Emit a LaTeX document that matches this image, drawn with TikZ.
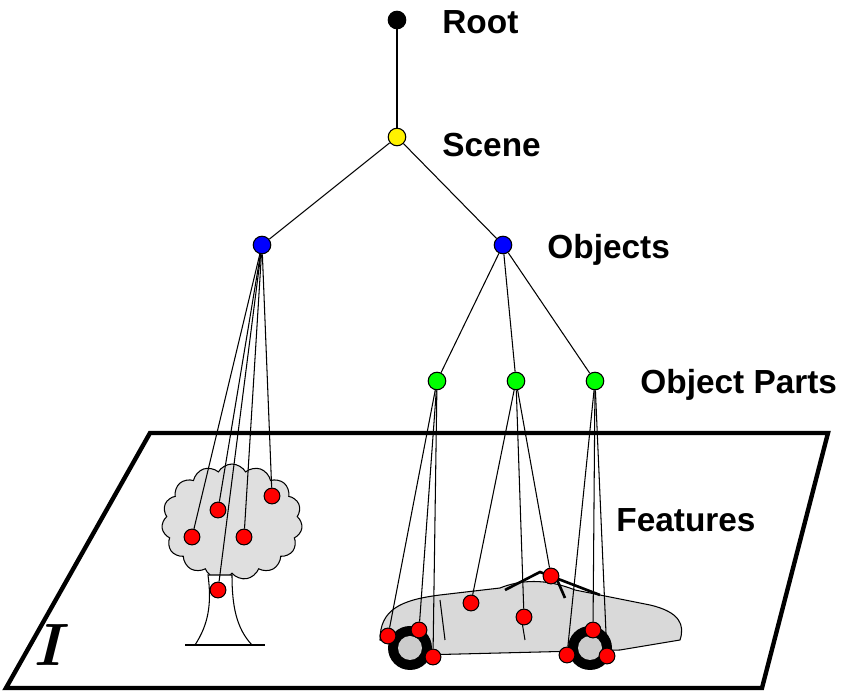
\documentclass[tikz,border=0pt]{standalone}
\usepackage{fontspec}
\setsansfont{Liberation Sans}
\usetikzlibrary{shapes.symbols}
\tikzset{
  dot/.style={circle,draw=black,inner sep=0pt,minimum size=10pt},
  feat/.style={dot,fill=red,minimum size=9pt},
  lbl/.style={font=\sffamily\bfseries\fontsize{19}{19}\selectfont,anchor=west},
}
\begin{document}
\begin{tikzpicture}[x=0.02cm,y=-0.02cm,line width=0.6pt]
  \useasboundingbox (0,0) rectangle (850,692);
  % image plane
  \draw[line width=2.5pt] (150,433) -- (828,433) -- (762,688) -- (6,688) -- cycle;
  \node[font=\fontsize{34}{34}\selectfont\bfseries\itshape] at (48,645) {I};
  \node[lbl] at (610,520) {Features};

  % tree
  \node[cloud,cloud puffs=15,cloud puff arc=120,aspect=1.2,draw,fill=gray!25,
        minimum width=80pt,minimum height=66pt] (crown) at (232,522) {};
  \filldraw[fill=white] (208,575) .. controls (212,605) and (208,625) .. (195,645)
    -- (252,645) .. controls (236,628) and (232,605) .. (232,575) -- cycle;
  \draw (185,645) -- (265,645);

  % car
  \draw[fill=gray!30] (380,640) .. controls (380,610) and (400,600) .. (440,595)
    -- (500,588) .. controls (520,580) and (545,578) .. (575,590)
    -- (650,605) .. controls (680,612) and (685,625) .. (680,640)
    -- (620,650) -- (420,655) -- cycle;
  \draw[line width=1.5pt] (505,590) -- (540,572) -- (600,595);
  \draw[line width=1.5pt] (555,575) -- (565,598);
  \fill[black] (410,648) circle (22);
  \fill[gray!40] (410,648) circle (12);
  \fill[black] (590,648) circle (22);
  \fill[gray!40] (590,648) circle (12);
  \draw (440,600) -- (445,640) (520,610) -- (525,640);

  % hierarchy nodes
  \node[dot,fill=black] (root) at (397,20) {};
  \node[dot,fill=yellow] (scene) at (397,137) {};
  \node[dot,fill=blue] (objL) at (262,245) {};
  \node[dot,fill=blue] (objR) at (503,245) {};
  \node[dot,fill=green] (partA) at (437,381) {};
  \node[dot,fill=green] (partB) at (516,381) {};
  \node[dot,fill=green] (partC) at (595,381) {};
  \node[lbl] at (436,22) {Root};
  \node[lbl] at (436,145) {Scene};
  \node[lbl] at (541,250) {Objects};
  \node[lbl] at (634,385) {Object Parts};

  % features
  \foreach \n/\x/\y in {t1/272/496,t2/218/510,t3/192/537,t4/244/537,t5/218/590,
      a1/388/636,a2/419/630,a3/433/657,b1/471/603,b2/524/617,b3/551/576,
      c1/593/630,c2/567/655,c3/607/656}
    \node[feat] (\n) at (\x,\y) {};

  % edges
  \draw (root) -- (scene);
  \draw (scene) -- (objL);
  \draw (scene) -- (objR);
  \foreach \p in {partA,partB,partC} \draw (objR) -- (\p);
  \foreach \f in {t1,t2,t3,t4,t5} \draw (objL) -- (\f);
  \foreach \f in {a1,a2,a3} \draw (partA) -- (\f);
  \foreach \f in {b1,b2,b3} \draw (partB) -- (\f);
  \foreach \f in {c1,c2,c3} \draw (partC) -- (\f);
\end{tikzpicture}
\end{document}
